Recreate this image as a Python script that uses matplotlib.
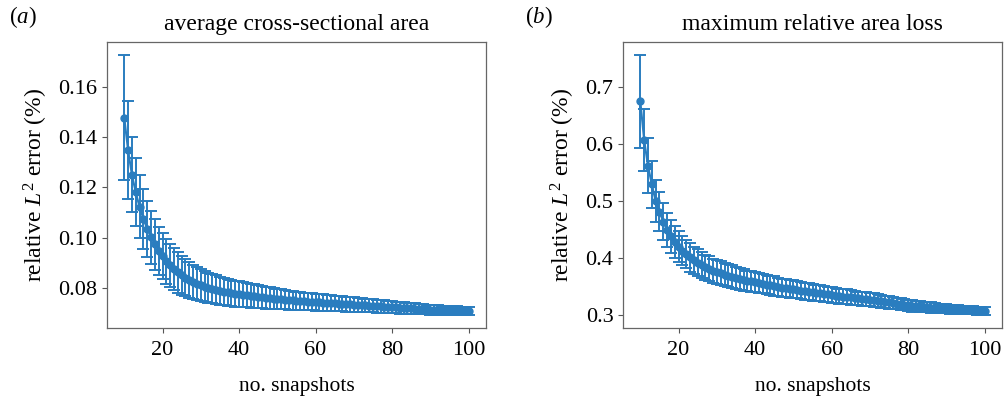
import matplotlib.pyplot as plt
import numpy as np

plt.rcParams["font.family"] = ["Liberation Serif", "DejaVu Serif"]
plt.rcParams["mathtext.fontset"] = "custom"
plt.rcParams["mathtext.rm"] = "Liberation Serif"
plt.rcParams["mathtext.it"] = "Liberation Serif:italic"

snapshots = np.arange(10, 101)

# average cross-sectional area: mean and std of relative L2 error (%)
area_mean = [
    0.1477, 0.1347, 0.1250, 0.1180, 0.1122, 0.1075, 0.1035, 0.1002, 0.0973, 0.0948,
    0.0926, 0.0907, 0.0890, 0.0875, 0.0862, 0.0851, 0.0841, 0.0832, 0.0824, 0.0817,
    0.0811, 0.0806, 0.0801, 0.0797, 0.0793, 0.0789, 0.0786, 0.0783, 0.0780, 0.0778,
    0.0776, 0.0774, 0.0772, 0.0770, 0.0768, 0.0766, 0.0764, 0.0762, 0.0760, 0.0758,
    0.0757, 0.0755, 0.0754, 0.0752, 0.0751, 0.0750, 0.0748, 0.0747, 0.0746, 0.0745,
    0.0744, 0.0743, 0.0742, 0.0741, 0.0740, 0.0739, 0.0738, 0.0737, 0.0736, 0.0735,
    0.0734, 0.0733, 0.0732, 0.0731, 0.0730, 0.0729, 0.0728, 0.0727, 0.0726, 0.0725,
    0.0724, 0.0723, 0.0722, 0.0721, 0.0720, 0.0719, 0.0718, 0.0717, 0.0716, 0.0715,
    0.0714, 0.0713, 0.0713, 0.0712, 0.0712, 0.0711, 0.0711, 0.0710, 0.0710, 0.0709,
    0.0709,
]
area_std = [
    0.0250, 0.0195, 0.0150, 0.0135, 0.0125, 0.0118, 0.0110, 0.0105, 0.0100, 0.0096,
    0.0092, 0.0089, 0.0086, 0.0083, 0.0080, 0.0077, 0.0074, 0.0071, 0.0068, 0.0066,
    0.0064, 0.0062, 0.0060, 0.0058, 0.0057, 0.0056, 0.0055, 0.0054, 0.0053, 0.0052,
    0.0051, 0.0050, 0.0049, 0.0048, 0.0047, 0.0046, 0.0045, 0.0044, 0.0043, 0.0042,
    0.0041, 0.0040, 0.0039, 0.0038, 0.0037, 0.0036, 0.0036, 0.0035, 0.0035, 0.0034,
    0.0034, 0.0033, 0.0033, 0.0032, 0.0032, 0.0031, 0.0031, 0.0030, 0.0030, 0.0029,
    0.0029, 0.0028, 0.0028, 0.0027, 0.0027, 0.0026, 0.0026, 0.0025, 0.0025, 0.0024,
    0.0024, 0.0023, 0.0023, 0.0022, 0.0022, 0.0021, 0.0021, 0.0020, 0.0020, 0.0019,
    0.0019, 0.0019, 0.0018, 0.0018, 0.0018, 0.0017, 0.0017, 0.0017, 0.0016, 0.0016,
    0.0016,
]

# maximum relative area loss
loss_mean = [
    0.675, 0.607, 0.562, 0.529, 0.500, 0.481, 0.464, 0.449, 0.438, 0.428,
    0.420, 0.413, 0.407, 0.401, 0.396, 0.392, 0.388, 0.384, 0.381, 0.378,
    0.375, 0.373, 0.371, 0.369, 0.367, 0.365, 0.363, 0.362, 0.360, 0.359,
    0.358, 0.356, 0.355, 0.353, 0.352, 0.351, 0.349, 0.348, 0.347, 0.346,
    0.345, 0.344, 0.343, 0.342, 0.341, 0.340, 0.339, 0.338, 0.337, 0.336,
    0.335, 0.334, 0.333, 0.332, 0.332, 0.331, 0.330, 0.329, 0.328, 0.328,
    0.327, 0.326, 0.325, 0.324, 0.323, 0.322, 0.321, 0.320, 0.319, 0.318,
    0.317, 0.316, 0.316, 0.315, 0.314, 0.314, 0.313, 0.312, 0.312, 0.311,
    0.311, 0.310, 0.310, 0.309, 0.309, 0.308, 0.308, 0.308, 0.307, 0.307,
    0.307,
]
loss_std = [
    0.082, 0.054, 0.048, 0.042, 0.037, 0.034, 0.032, 0.030, 0.029, 0.028,
    0.027, 0.026, 0.025, 0.025, 0.024, 0.023, 0.023, 0.022, 0.022, 0.021,
    0.021, 0.021, 0.020, 0.020, 0.020, 0.019, 0.019, 0.019, 0.018, 0.018,
    0.018, 0.018, 0.017, 0.017, 0.017, 0.017, 0.016, 0.016, 0.016, 0.016,
    0.016, 0.015, 0.015, 0.015, 0.015, 0.015, 0.014, 0.014, 0.014, 0.014,
    0.014, 0.013, 0.013, 0.013, 0.013, 0.013, 0.012, 0.012, 0.012, 0.012,
    0.012, 0.012, 0.011, 0.011, 0.011, 0.011, 0.011, 0.010, 0.010, 0.010,
    0.010, 0.010, 0.009, 0.009, 0.009, 0.009, 0.009, 0.009, 0.008, 0.008,
    0.008, 0.008, 0.008, 0.008, 0.007, 0.007, 0.007, 0.007, 0.007, 0.007,
    0.007,
]

panels = [
    ("a", "average cross-sectional area", area_mean, area_std),
    ("b", "maximum relative area loss", loss_mean, loss_std),
]

fig = plt.figure(figsize=(10.05, 4.03), dpi=100)
lefts = [0.1065, 0.6200]
for left, (tag, title, mean, std) in zip(lefts, panels):
    ax = fig.add_axes([left, 0.186, 0.377, 0.711])
    ax.errorbar(snapshots, mean, yerr=std, fmt="-o", color="#2a7dbf",
                ms=5, lw=1.5, elinewidth=1.4, capsize=4, capthick=1.4)
    ax.set_xticks([20, 40, 60, 80, 100])
    ax.tick_params(labelsize=16, length=3.5, width=0.8, color="#555555")
    ax.tick_params(axis="x", pad=6)
    for s in ax.spines.values():
        s.set_color("#666666")
        s.set_linewidth(0.9)
    ax.set_xlabel("no. snapshots", fontsize=15.5, labelpad=12)
    ax.set_ylabel(r"relative $L^2$ error (%)", fontsize=17, labelpad=6)
    ax.set_title(title, fontsize=17, pad=8)
    fig.text(left - 0.098, 0.925, r"($\mathit{" + tag + "}$)", fontsize=16.5,
             va="bottom")

fig.savefig("out.png", dpi=100)
